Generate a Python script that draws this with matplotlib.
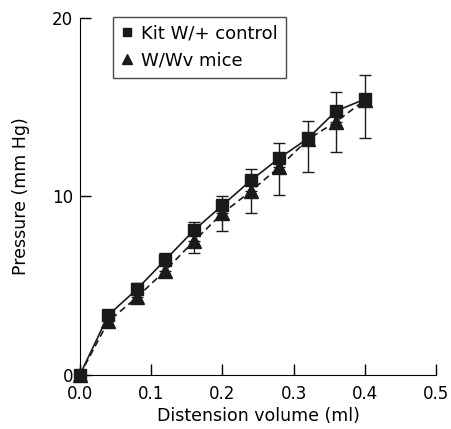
import matplotlib
matplotlib.use("Agg")
import matplotlib.pyplot as plt
from matplotlib.lines import Line2D

volume = [0.0, 0.04, 0.08, 0.12, 0.16, 0.20, 0.24, 0.28, 0.32, 0.36, 0.40]
kit_pressure = [0.0, 3.35, 4.8, 6.45, 8.1, 9.5, 10.9, 12.15, 13.25, 14.8, 15.45]
kit_err_up = [0.0, 0.3, 0.35, 0.4, 0.45, 0.55, 0.62, 0.84, 1.0, 1.06, 1.33]
wv_pressure = [0.0, 3.0, 4.35, 5.85, 7.5, 9.05, 10.3, 11.65, 13.2, 14.2, 15.4]
wv_err_down = [0.0, 0.25, 0.3, 0.35, 0.65, 0.98, 1.24, 1.57, 1.85, 1.7, 2.1]

xticks = [0.0, 0.1, 0.2, 0.3, 0.4, 0.5]
yticks = [0, 10, 20]

plt.rcParams['font.family'] = ['DejaVu Sans']
fig = plt.figure(figsize=(4.51, 4.29), dpi=100)
ax = fig.add_axes([0.177, 0.126, 0.79, 0.832])

ax.errorbar(volume, wv_pressure, yerr=[wv_err_down, [0]*len(wv_err_down)],
            fmt='none', ecolor='#1a1a1a', elinewidth=1.0, capsize=4, capthick=1.0, zorder=2)
ax.errorbar(volume, kit_pressure, yerr=[[0]*len(kit_err_up), kit_err_up],
            fmt='none', ecolor='#1a1a1a', elinewidth=1.0, capsize=4, capthick=1.0, zorder=2)
ax.plot(volume, wv_pressure, linestyle=(0, (4, 2.5)), color='#1a1a1a', lw=1.2,
        marker='^', markersize=9.5, markerfacecolor='#1a1a1a', markeredgecolor='#1a1a1a',
        label='W/Wv mice', zorder=3, clip_on=False)
ax.plot(volume, kit_pressure, linestyle='-', color='#1a1a1a', lw=1.2,
        marker='s', markersize=9, markerfacecolor='#1a1a1a', markeredgecolor='#1a1a1a',
        label='Kit W/+ control', zorder=4, clip_on=False)

ax.set_xlim(0, 0.5)
ax.set_ylim(0, 20)
ax.set_xticks(xticks)
ax.set_xticklabels([f"{t:.1f}" for t in xticks])
ax.set_yticks(yticks)
ax.spines['top'].set_visible(False)
ax.spines['right'].set_visible(False)
ax.tick_params(direction='in', length=8, width=1, labelsize=12)
ax.tick_params(axis='x', pad=7)
ax.tick_params(axis='y', pad=5)
ax.set_xlabel('Distension volume (ml)', fontsize=12.5, labelpad=3)
ax.set_ylabel('Pressure (mm Hg)', fontsize=12.5, labelpad=16)

h1 = Line2D([], [], linestyle='none', marker='s', markersize=6, color='#1a1a1a')
h2 = Line2D([], [], linestyle='none', marker='^', markersize=7, color='#1a1a1a')
leg = ax.legend([h1, h2], ['Kit W/+ control', 'W/Wv mice'], loc='upper left',
                bbox_to_anchor=(0.0927, 1.004), frameon=True, fancybox=False,
                handlelength=0.7, handletextpad=0.4, borderpad=0.45, labelspacing=0.5,
                borderaxespad=0, fontsize=13, edgecolor='#1a1a1a')
leg.get_frame().set_linewidth(1.0)

fig.savefig('out.png', dpi=100)
